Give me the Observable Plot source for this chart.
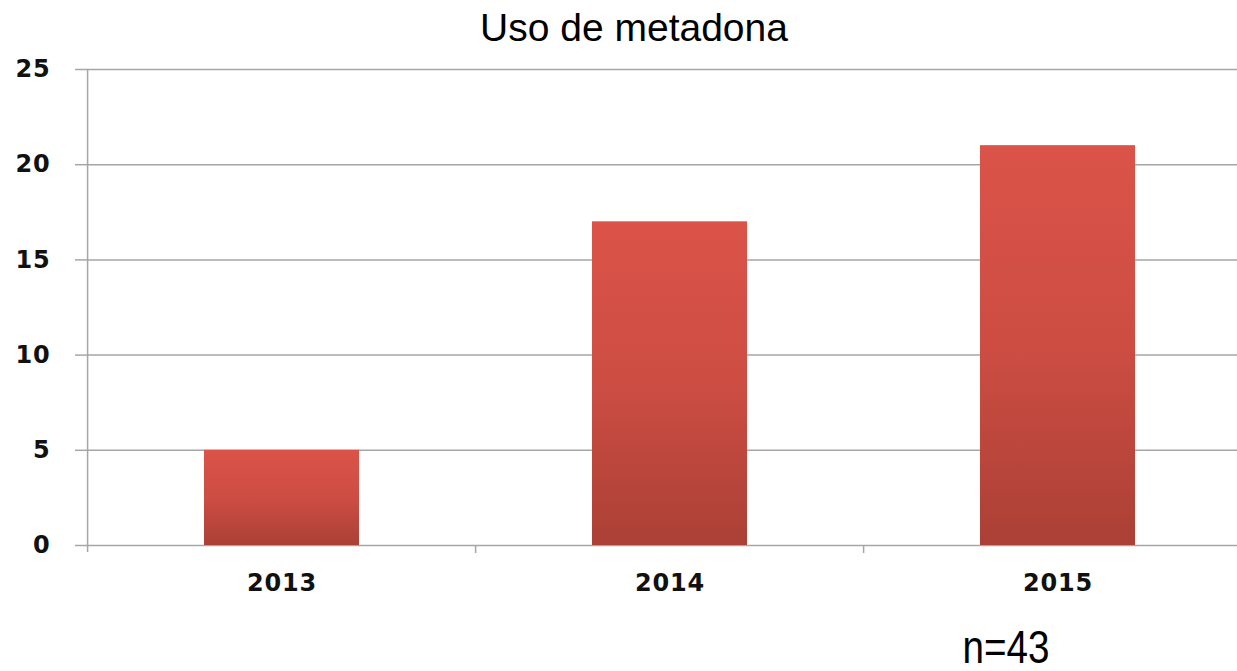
<!DOCTYPE html>
<html>
<head>
<meta charset="utf-8">
<script src="https://cdn.jsdelivr.net/npm/d3@7"></script>
<script src="https://cdn.jsdelivr.net/npm/@observablehq/plot@0.6"></script>
<style>
  html, body { margin: 0; padding: 0; background: #fff; overflow: hidden; }
  #wrap { position: relative; width: 1237px; height: 671px; }
  #title { position: absolute; left: 634px; top: 8px; transform: translateX(-50%);
    font-family: "Liberation Sans", Arial, sans-serif; font-size: 39px; line-height: 39px; color: #000; white-space: nowrap; }
  #note { position: absolute; left: 1006px; top: 624px; transform: translateX(-50%) scaleX(0.84);
    font-family: "Liberation Sans", Arial, sans-serif; font-size: 46px; line-height: 46px; color: #000; white-space: nowrap; }
  #chart svg { position: absolute; left: 0; top: 0; }
  #chart text { font-family: "DejaVu Sans", Verdana, sans-serif; font-weight: bold; font-size: 24px; letter-spacing: 0.8px; fill: #111; }
</style>
</head>
<body>
<div id="wrap">
  <div id="chart"></div>
  <div id="title">Uso de metadona</div>
  <div id="note">n=43</div>
</div>
<script>
const years = ["2013", "2014", "2015"];
const values = [5, 17, 21];
const yTicks = [0, 5, 10, 15, 20, 25];
const data = years.map((y, i) => ({year: y, value: values[i]}));

const W = 1237, H = 671;
const paddingInner = 0.6, paddingOuter = 0.3;
const gridColor = "#a6a6a6";

const plot = Plot.plot({
  width: W,
  height: H,
  marginTop: 69,
  marginBottom: 126,
  marginLeft: 87,
  marginRight: 0,
  x: {type: "band", domain: years, range: [87, 1252], paddingInner, paddingOuter, label: null},
  y: {domain: [0, 25], ticks: yTicks, label: null},
  marks: [
    Plot.gridY(yTicks, {stroke: gridColor, strokeOpacity: 1, strokeWidth: 1.5}),
    Plot.barY(data, {x: "year", y: "value", fill: "url(#barGrad)"}),
    Plot.axisY({ticks: yTicks, tickSize: 12, tickPadding: 25, stroke: gridColor, strokeWidth: 1.5, label: null}),
    Plot.axisX({tickSize: 0, tickPadding: 28, label: null})
  ]
});

document.getElementById("chart").appendChild(plot);

// gradient for bars
const svg = d3.select(plot);
const defs = svg.insert("defs", ":first-child");
const grad = defs.append("linearGradient").attr("id", "barGrad")
  .attr("x1", 0).attr("y1", 0).attr("x2", 0).attr("y2", 1);
grad.append("stop").attr("offset", "0%").attr("stop-color", "#db5349");
grad.append("stop").attr("offset", "50%").attr("stop-color", "#cd4d43");
grad.append("stop").attr("offset", "100%").attr("stop-color", "#ab4036");
svg.selectAll('g[aria-label="bar"] rect').attr("fill", "url(#barGrad)");

// y axis line and category boundary ticks, from the plot's own scales
const xs = plot.scale("x"), ys = plot.scale("y");
const step = xs.apply(years[1]) - xs.apply(years[0]);
const y0 = ys.apply(0), yTop = ys.apply(25);
const extra = svg.append("g").attr("stroke", gridColor).attr("stroke-width", 1.5);
const left = xs.apply(years[0]) - step * paddingOuter;
extra.append("line").attr("x1", left).attr("x2", left).attr("y1", yTop).attr("y2", y0 + 7);
years.slice(1).forEach(y => {
  const bx = xs.apply(y) - step * paddingInner / 2;
  extra.append("line").attr("x1", bx).attr("x2", bx).attr("y1", y0).attr("y2", y0 + 8);
});
</script>
</body>
</html>
